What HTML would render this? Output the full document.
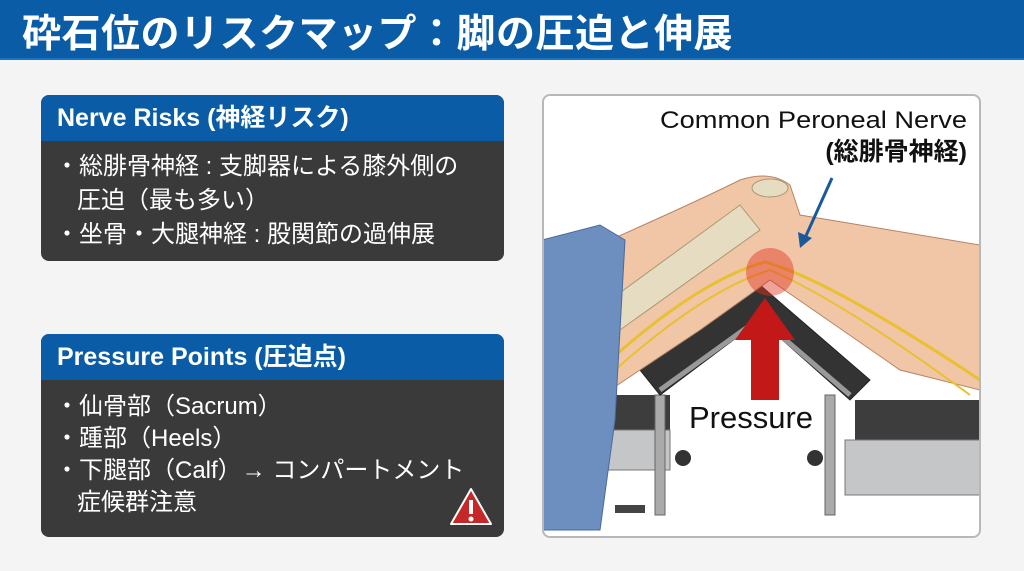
<!DOCTYPE html>
<html><head><meta charset="utf-8"><style>
*{margin:0;padding:0;box-sizing:border-box}
body{width:1024px;height:571px;background:#f4f4f4;font-family:"Liberation Sans","Noto Sans CJK JP",sans-serif;position:relative;overflow:hidden}
.hdr{position:absolute;left:0;top:0;width:1024px;height:60px;background:#0b5ca6;border-bottom:2px solid #1a75c0}
.hdr div{position:absolute;left:22px;top:3px;color:#fff;font-size:39px;font-weight:bold;white-space:nowrap;letter-spacing:0.5px}
.panel{position:absolute;background:#3a3a3a;border-radius:8px;overflow:hidden;color:#fff}
.ph{background:#0b5ca6;height:46px;padding-left:16px;font-size:25px;font-weight:bold;line-height:46px;white-space:nowrap}
.pb{padding:9px 0 0 14px;font-size:24px;line-height:34px;white-space:nowrap}
.ind{padding-left:22px}
.frame{position:absolute;left:542px;top:94px;width:439px;height:444px;background:#fff;border:2px solid #b8b8b8;border-radius:8px;overflow:hidden}
</style></head><body>
<div class="hdr"><div>砕石位のリスクマップ：脚の圧迫と伸展</div></div>
<div class="panel" style="left:41px;top:95px;width:463px;height:166px">
<div class="ph">Nerve Risks (神経リスク)</div>
<div class="pb">・総腓骨神経 : 支脚器による膝外側の<br><span class="ind">圧迫（最も多い）</span><br>・坐骨・大腿神経 : 股関節の過伸展</div>
</div>
<div class="panel" style="left:41px;top:334px;width:463px;height:203px">
<div class="ph">Pressure Points (圧迫点)</div>
<div class="pb" style="padding-top:11px;line-height:32px">・仙骨部（Sacrum）<br>・踵部（Heels）<br>・下腿部（Calf）→ コンパートメント<br><span class="ind">症候群注意</span></div>
<svg style="position:absolute;left:407px;top:152px" width="46" height="42"><path d="M23 3 L43 38 L3 38 Z" fill="#c62828" stroke="#fff" stroke-width="2" stroke-linejoin="round"/><rect x="21" y="14" width="4" height="14" fill="#fff"/><circle cx="23" cy="33" r="2.5" fill="#fff"/></svg>
</div>
<div class="frame">
<svg width="439" height="444" viewBox="542 94 439 444" style="position:absolute;left:-2px;top:-2px">
<rect x="600" y="395" width="70" height="50" fill="#3d3d3d"/>
<rect x="600" y="430" width="70" height="40" fill="#c4c6c8" stroke="#777"/>
<rect x="855" y="400" width="126" height="45" fill="#3d3d3d"/>
<rect x="845" y="440" width="136" height="55" fill="#c4c6c8" stroke="#777"/>
<rect x="655" y="395" width="10" height="120" fill="#aaa" stroke="#666"/>
<rect x="825" y="395" width="10" height="120" fill="#aaa" stroke="#666"/>
<circle cx="683" cy="458" r="8" fill="#333"/><circle cx="815" cy="458" r="8" fill="#333"/>
<rect x="615" y="505" width="30" height="8" fill="#444"/>
<path d="M640 370 L760 285 L870 380 L850 400 L760 320 L660 395 Z" fill="#333" stroke="#222"/>
<path d="M660 390 L760 318 L850 395" fill="none" stroke="#999" stroke-width="5"/>
<path d="M610 240 Q700 200 740 180 Q770 170 790 185 L800 215 L980 245 L980 390 L900 370 L770 280 L700 330 L610 390 Z" fill="#f1c6a6" stroke="#b68565"/>
<path d="M610 300 L740 205 L760 230 L620 330 Z" fill="#e6dcc2" stroke="#a89870"/>
<ellipse cx="770" cy="188" rx="18" ry="9" fill="#e6dcc2" stroke="#a89870"/>
<path d="M610 360 Q700 280 765 262 Q830 280 980 380" fill="none" stroke="#e8c030" stroke-width="3"/>
<path d="M615 370 Q705 290 770 270 Q840 300 970 395" fill="none" stroke="#e8c030" stroke-width="2"/>
<circle cx="770" cy="272" r="24" fill="#e03020" opacity="0.45"/>
<path d="M542 240 L600 225 L625 240 L615 420 L600 530 L542 530 Z" fill="#6d8fc0" stroke="#4a6a9a"/>
<path d="M765 298 L795 340 L779 340 L779 400 L751 400 L751 340 L735 340 Z" fill="#c21818"/>
<line x1="832" y1="178" x2="805" y2="238" stroke="#1a5a9a" stroke-width="3"/>
<path d="M800 248 L798 232 L812 238 Z" fill="#1a5a9a"/>
<text x="967" y="128" text-anchor="end" font-size="24" font-family="Liberation Sans" fill="#111" textLength="307" lengthAdjust="spacingAndGlyphs">Common Peroneal Nerve</text>
<text x="967" y="160" text-anchor="end" font-size="25" font-weight="bold" font-family="Liberation Sans,Noto Sans CJK JP,sans-serif" fill="#111">(総腓骨神経)</text>
<text x="751" y="428" text-anchor="middle" font-size="31" font-family="Liberation Sans" fill="#111">Pressure</text>
</svg>
</div>
</body></html>
